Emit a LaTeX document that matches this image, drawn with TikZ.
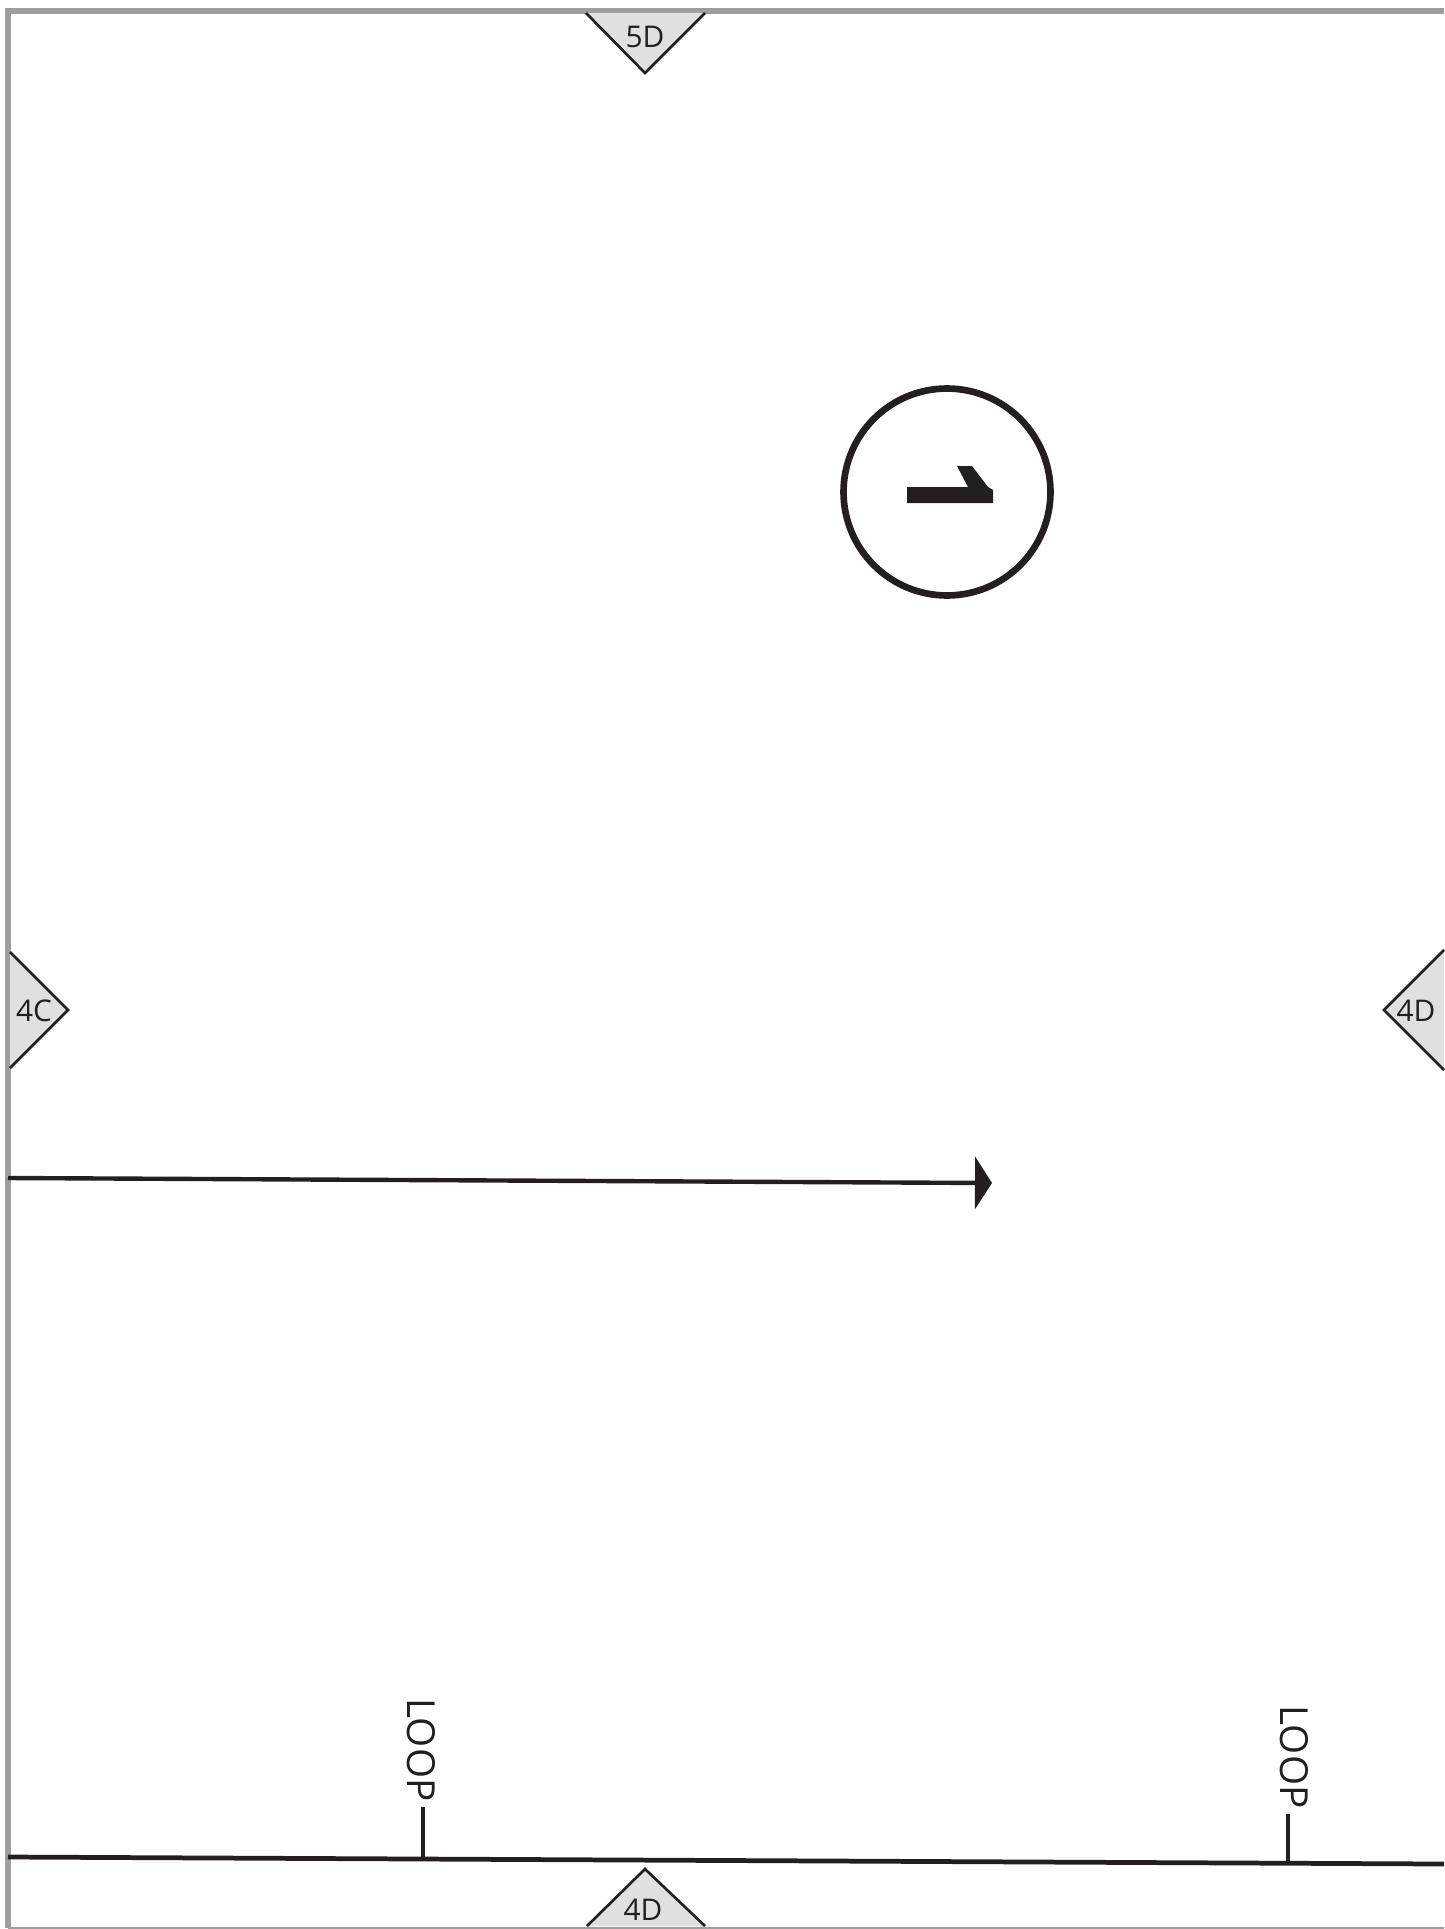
\documentclass[tikz,border=0pt]{standalone}
\usepackage{fontspec}
\setmainfont{Open Sans}
\usepackage{tikz}
\usetikzlibrary{arrows.meta}
\definecolor{inkdark}{HTML}{231F20}
\definecolor{framegray}{HTML}{9E9E9E}
\definecolor{tagfill}{HTML}{E0E0E0}
\tikzset{
    framerule/.style={draw=framegray, line width=3pt},
    tagedge/.style={draw=inkdark, line width=1.5pt, line join=miter},
    taglabel/.style={text=inkdark, inner sep=0pt, font=\fontsize{17}{20}\selectfont},
    wire/.style={draw=inkdark, line width=2.5pt},
    looplabel/.style={text=inkdark, inner sep=0pt, rotate=-90, font=\fontsize{22}{25}\selectfont}
}

\begin{document}
\begin{tikzpicture}[x=0.02cm, y=-0.02cm]
    \useasboundingbox (0,0) rectangle (1444,1929);
    \fill[white] (0,0) rectangle (1444,1929);

    % Page frame
    \draw[framerule] (1444,11) -- (8,11) -- (8,1928);
    \draw[framerule, line width=1.6pt] (8,1928) -- (1444,1928);

    % Off-page tags
    \fill[tagfill] (587,13) -- (645,71) -- (704,13) -- cycle;
    \draw[tagedge] (586,13) -- (645,73) -- (705,13);
    \node[taglabel] (tagtop) at (645,37) {5D};

    \fill[tagfill] (10,952) -- (68,1010) -- (10,1068) -- cycle;
    \draw[tagedge] (10,952) -- (68,1010) -- (10,1068);
    \node[taglabel] (tagleft) at (34,1011) {4C};

    \fill[tagfill] (1444,950) -- (1384,1010) -- (1444,1070) -- cycle;
    \draw[tagedge] (1444,950) -- (1384,1010) -- (1444,1070);
    \node[taglabel] (tagright) at (1416,1011) {4D};

    \fill[tagfill] (587,1926) -- (645,1869) -- (705,1926) -- cycle;
    \draw[tagedge] (587,1926) -- (645,1869) -- (705,1926);
    \node[taglabel] (tagbottom) at (643,1910) {4D};

    % Circle with mark
    \node[circle, draw=inkdark, line width=3.8pt, minimum size=4.14cm, inner sep=0pt] (dial) at (947,492) {};
    \fill[inkdark] (907,487) -- (968,487) -- (957,466) -- (972,466) -- (988,487) -- (993,490) -- (993,503) -- (907,503) -- cycle;

    % Arrow
    \coordinate (arrowstart) at (8,1178);
    \coordinate (arrowend) at (992,1183);
    \draw[wire, -{Triangle[length=0.34cm, width=1.04cm]}] (arrowstart) -- (arrowend);

    % Bottom line with loops
    \coordinate (linestart) at (8,1857);
    \coordinate (lineend) at (1444,1864);
    \draw[wire, line width=2.7pt] (linestart) -- (lineend);

    \node[looplabel] (loopa) at (421,1750) {LOOP};
    \coordinate (loopafoot) at (423,1858);
    \draw[wire] (423,1807) -- (loopafoot);

    \node[looplabel] (loopb) at (1294,1757) {LOOP};
    \coordinate (loopbfoot) at (1288,1863);
    \draw[wire] (1288,1814) -- (loopbfoot);
\end{tikzpicture}
\end{document}
